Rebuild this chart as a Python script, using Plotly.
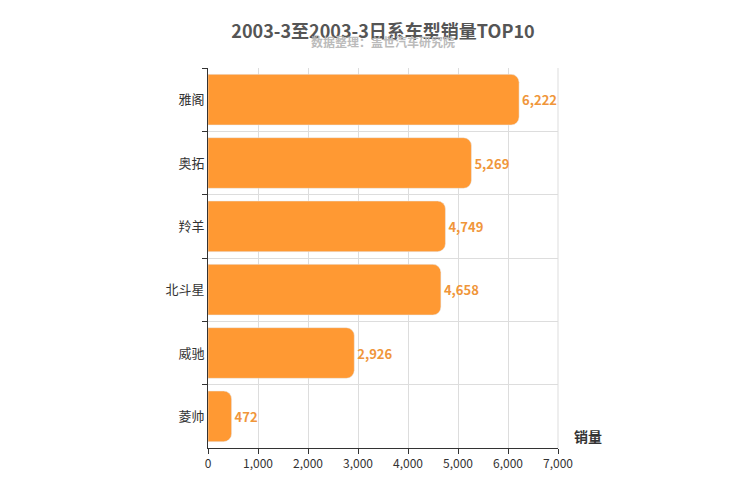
import plotly.graph_objects as go

models = ['雅阁', '奥拓', '羚羊', '北斗星', '威驰', '菱帅']
sales = [6222, 5269, 4749, 4658, 2926, 472]
x_ticks = [0, 1000, 2000, 3000, 4000, 5000, 6000, 7000]

font = 'Noto Sans CJK SC'
orange = '#FF9933'

fig = go.Figure(go.Bar(
    y=models, x=sales, orientation='h',
    marker=dict(color=orange, cornerradius=8),
    width=0.8,
    text=[f'<b>{v:,}</b>' for v in sales], textposition='outside',
    textfont=dict(color='#F0963A', size=13, family=font),
    cliponaxis=False,
))

fig.update_layout(
    width=750, height=500,
    plot_bgcolor='white', paper_bgcolor='white',
    margin=dict(l=200, r=200, t=60, b=60, autoexpand=False),
    showlegend=False,
    title=dict(text='<b>2003-3至2003-3日系车型销量TOP10</b>', x=0.5, y=0.965,
               xanchor='center', font=dict(size=18, color='#555', family=font)),
    annotations=[
        dict(text='<b>数据整理：盖世汽车研究院</b>', x=0.5, y=1.07, xref='paper', yref='paper',
             xanchor='center', yanchor='middle', showarrow=False,
             font=dict(size=12, color='#bbb', family=font)),
        dict(text='<b>销量</b>', x=1.04, y=0.0, xref='paper', yref='paper',
             xanchor='left', yanchor='bottom', showarrow=False,
             font=dict(size=14, color='#333', family=font)),
    ],
)

fig.update_xaxes(range=[0, 7000], tickvals=x_ticks, tickformat=',', automargin=False,
                 showgrid=True, gridcolor='#ddd', showline=True, linecolor='#333',
                 ticks='outside', tickcolor='#333', ticklen=5,
                 tickfont=dict(size=12, color='#333', family=font), zeroline=False)
fig.update_yaxes(autorange='reversed', tickson='boundaries', showgrid=True, gridcolor='#ddd',
                 automargin=False,
                 showline=True, linecolor='#333', ticks='outside', tickcolor='#333', ticklen=5,
                 tickfont=dict(size=13, color='#333', family=font))
fig.add_shape(type='line', xref='paper', yref='paper', x0=1, x1=1, y0=0, y1=1,
              line=dict(color='#ddd', width=1))

fig.write_html('out.html')
